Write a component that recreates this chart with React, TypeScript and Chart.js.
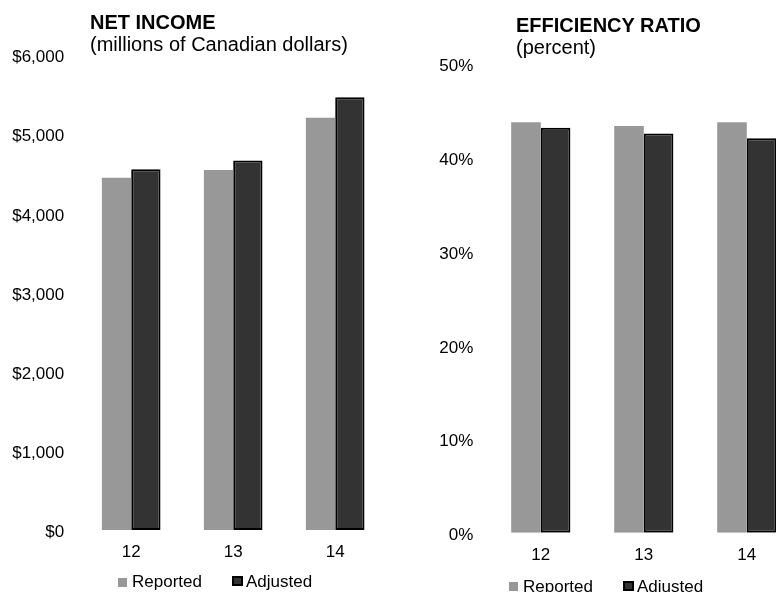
import React, { useEffect, useRef } from "react";
import { Chart, registerables } from "chart.js";

Chart.register(...registerables);

const FONT = "'Liberation Sans', Arial, Helvetica, sans-serif";

// ---- data ----
const years = ["12", "13", "14"];
const seriesNames = ["Reported", "Adjusted"];
const netIncomeReported = [4450, 4550, 5210];
const netIncomeAdjusted = [4560, 4670, 5470];
const efficiencyReported = [43.8, 43.4, 43.8];
const efficiencyAdjusted = [43.2, 42.6, 42.1];
const netIncomeAxis = { min: 0, max: 6000, step: 1000 };
const efficiencyAxis = { min: 0, max: 50, step: 10 };

const REPORTED_COLOR = "#989898";
const ADJUSTED_COLOR = "#333333";

type PanelProps = {
  title: string;
  subtitle: string;
  reported: number[];
  adjusted: number[];
  axis: { min: number; max: number; step: number };
  fmt: (v: number) => string;
  left: number;
  width: number;
  yAxisWidth: number;
  padTop: number;
  padRight: number;
  padBottom: number;
  labelOffset: number;
  titleLeft: number;
  titleTop: number;
  legendLeft: number;
  legendTop: number;
};

function Panel(p: PanelProps) {
  const ref = useRef<HTMLCanvasElement | null>(null);
  useEffect(() => {
    if (!ref.current) return;
    const chart = new Chart(ref.current, {
      type: "bar",
      data: {
        labels: years,
        datasets: [
          {
            label: seriesNames[0],
            data: p.reported,
            backgroundColor: REPORTED_COLOR,
            borderWidth: 0,
            categoryPercentage: 0.575,
            barPercentage: 1,
          },
          {
            label: seriesNames[1],
            data: p.adjusted,
            backgroundColor: ADJUSTED_COLOR,
            borderColor: "#000000",
            borderWidth: 2,
            borderSkipped: false,
            categoryPercentage: 0.575,
            barPercentage: 1,
          },
        ],
      },
      options: {
        responsive: false,
        animation: false,
        devicePixelRatio: 1,
        layout: {
          padding: { left: 0, top: p.padTop, right: p.padRight, bottom: p.padBottom },
        },
        plugins: {
          legend: { display: false },
          title: { display: false },
          tooltip: { enabled: false },
        },
        scales: {
          x: {
            grid: { display: false, drawTicks: false },
            border: { display: false },
            ticks: {
              color: "#000",
              font: { family: FONT, size: 17 },
              padding: 12,
            },
            afterFit: (s: any) => {
              s.height = 40;
            },
          },
          y: {
            min: p.axis.min,
            max: p.axis.max,
            grid: { display: false, drawTicks: false },
            border: { display: false },
            ticks: {
              stepSize: p.axis.step,
              color: "#000",
              font: { family: FONT, size: 17 },
              padding: 16,
              labelOffset: p.labelOffset,
              callback: (v: any) => p.fmt(Number(v)),
            },
            afterFit: (s: any) => {
              s.width = p.yAxisWidth;
            },
          },
        },
      },
    });
    return () => chart.destroy();
  }, []);

  const textBase: React.CSSProperties = {
    position: "absolute",
    fontFamily: FONT,
    color: "#000",
    whiteSpace: "nowrap",
  };

  return (
    <>
      <canvas
        ref={ref}
        width={p.width}
        height={592}
        style={{ position: "absolute", left: p.left, top: 0, width: p.width, height: 592 }}
      />
      <div style={{ ...textBase, left: p.titleLeft, top: p.titleTop, fontSize: 20, lineHeight: "22px" }}>
        <div style={{ fontWeight: "bold" }}>{p.title}</div>
        <div>{p.subtitle}</div>
      </div>
      <div
        style={{
          ...textBase,
          left: p.legendLeft,
          top: p.legendTop,
          fontSize: 17,
          lineHeight: "20px",
          display: "flex",
          alignItems: "center",
          height: 20,
        }}
      >
        <span style={{ width: 9, height: 9, background: REPORTED_COLOR, marginRight: 5 }} />
        <span>{seriesNames[0]}</span>
        <span
          style={{
            width: 11,
            height: 10,
            background: ADJUSTED_COLOR,
            border: "2px solid #000",
            boxSizing: "border-box",
            marginLeft: 30,
            marginRight: 3,
            marginTop: -2,
          }}
        />
        <span>{seriesNames[1]}</span>
      </div>
    </>
  );
}

export default function App() {
  return (
    <div
      style={{
        position: "fixed",
        left: 0,
        top: 0,
        width: 776,
        height: 592,
        overflow: "hidden",
        background: "#fff",
      }}
    >
      <Panel
        title="NET INCOME"
        subtitle="(millions of Canadian dollars)"
        reported={netIncomeReported}
        adjusted={netIncomeAdjusted}
        axis={netIncomeAxis}
        fmt={(v) => "$" + v.toLocaleString("en-US")}
        left={0}
        width={400}
        yAxisWidth={80.2}
        padTop={55.2}
        padRight={13.8}
        padBottom={22}
        labelOffset={2.4}
        titleLeft={90}
        titleTop={11.4}
        legendLeft={118}
        legendTop={572.4}
      />
      <Panel
        title="EFFICIENCY RATIO"
        subtitle="(percent)"
        reported={efficiencyReported}
        adjusted={efficiencyAdjusted}
        axis={efficiencyAxis}
        fmt={(v) => v + "%"}
        left={388}
        width={420}
        yAxisWidth={101.3}
        padTop={64.1}
        padRight={9.7}
        padBottom={19.3}
        labelOffset={2.6}
        titleLeft={516}
        titleTop={13.5}
        legendLeft={509}
        legendTop={576.5}
      />
    </div>
  );
}
